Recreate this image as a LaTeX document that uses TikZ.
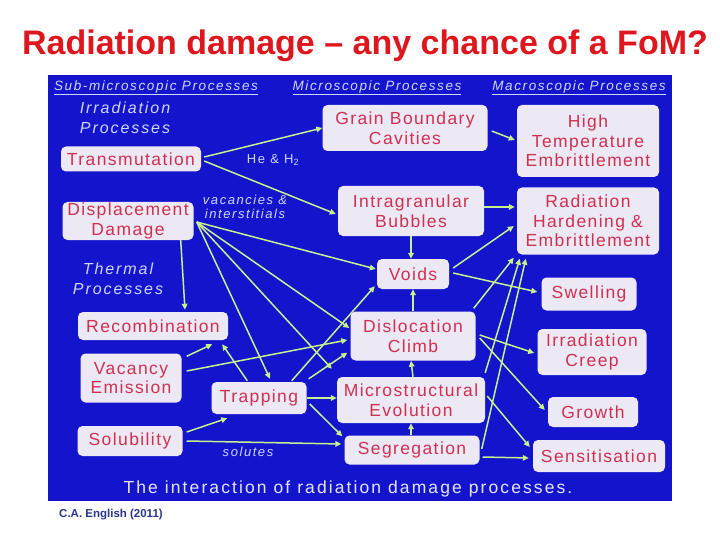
\documentclass[tikz,border=0pt]{standalone}
\usepackage{fontspec}
\setmainfont{Liberation Sans}
\newfontfamily\nodefont[LetterSpace=8]{Liberation Sans}
\newfontfamily\hdrfont[LetterSpace=12]{Liberation Sans}
\usetikzlibrary{arrows.meta,calc}
\definecolor{panelblue}{RGB}{20,20,205}
\definecolor{boxfill}{RGB}{236,232,244}
\definecolor{boxtext}{RGB}{208,48,80}
\definecolor{arrgreen}{RGB}{200,240,140}
\definecolor{labtext}{RGB}{205,215,255}
\definecolor{captext}{RGB}{228,230,255}
\definecolor{titlered}{RGB}{222,22,30}
\definecolor{footblue}{RGB}{40,55,140}
\tikzset{
  box/.style={fill=boxfill, rounded corners=5pt, text=boxtext, align=center, inner sep=0pt,
    font=\nodefont\fontsize{17.5}{19.5}\selectfont},
  hdr/.style={text=labtext, inner sep=0pt, font=\hdrfont\itshape\fontsize{13.5}{15}\selectfont},
  grp/.style={text=labtext, inner sep=0pt, align=center, font=\hdrfont\itshape\fontsize{16}{19.5}\selectfont},
  lab/.style={text=labtext, inner sep=0pt, align=center, font=\hdrfont\fontsize{13}{14}\selectfont},
  arr/.style={draw=arrgreen, line width=1.5pt, -{Triangle[length=6pt,width=5.5pt]}}
}
\begin{document}
\begin{tikzpicture}[x=1pt,y=-1pt]
\useasboundingbox (0,0) rectangle (720,540);
\fill[white] (0,0) rectangle (720,540);
\fill[panelblue] (48,75) rectangle (672,501);

% title and footer
\node[text=titlered, font=\bfseries\fontsize{34}{37}\selectfont] (title) at (365,46) {Radiation damage – any chance of a FoM?};
\node[text=footblue, anchor=west, inner sep=0pt, font=\bfseries\fontsize{11.5}{13}\selectfont] (foot) at (59,515) {C.A. English (2011)};

% headers
\node[hdr] (h1) at (156,88) {\underline{Sub-microscopic Processes}};
\node[hdr] (h2) at (377,88) {\underline{Microscopic Processes}};
\node[hdr] (h3) at (579,88) {\underline{Macroscopic Processes}};
\node[grp] (irr) at (125,118) {Irradiation\\Processes};
\node[grp] (therm) at (118,279) {Thermal\\Processes};
\node[text=captext, inner sep=0pt, font=\hdrfont\fontsize{17.5}{20}\selectfont] (cap) at (348,489) {The interaction of radiation damage processes.};

% boxes
\node[box, minimum width=140, minimum height=25] (trans) at (131,159) {Transmutation};
\node[box, minimum width=131, minimum height=38] (disp) at (128,221) {Displacement\\Damage};
\node[box, minimum width=165, minimum height=46] (gbc) at (405,128) {Grain Boundary\\Cavities};
\node[box, minimum width=146, minimum height=50] (ib) at (411,211) {Intragranular\\Bubbles};
\node[box, minimum width=142, minimum height=72] (hte) at (588,141) {High\\Temperature\\Embrittlement};
\node[box, minimum width=142, minimum height=67] (rhe) at (588,221) {Radiation\\Hardening \&\\Embrittlement};
\node[box, minimum width=72, minimum height=30] (voids) at (413,274) {Voids};
\node[box, minimum width=95, minimum height=33] (swell) at (589,294) {Swelling};
\node[box, minimum width=150, minimum height=28] (recomb) at (153,326) {Recombination};
\node[box, minimum width=125, minimum height=49] (dc) at (413,336) {Dislocation\\Climb};
\node[box, minimum width=109, minimum height=46] (creep) at (592,352) {Irradiation\\Creep};
\node[box, minimum width=101, minimum height=49] (vacem) at (131,378) {Vacancy\\Emission};
\node[box, minimum width=95, minimum height=32] (trap) at (259,398) {Trapping};
\node[box, minimum width=148, minimum height=46] (mse) at (411,400) {Microstructural\\Evolution};
\node[box, minimum width=90, minimum height=30] (growth) at (593,412) {Growth};
\node[box, minimum width=105, minimum height=30] (solub) at (130,441) {Solubility};
\node[box, minimum width=135, minimum height=29] (seg) at (412,450) {Segregation};
\node[box, minimum width=132, minimum height=32] (sens) at (599,456) {Sensitisation};

% labels
\node[lab] (he) at (273,160) {He \& H\textsubscript{2}};
\node[lab, font=\hdrfont\itshape\fontsize{13}{14}\selectfont] (vi) at (245,207) {vacancies \&\\interstitials};
\node[lab, font=\hdrfont\itshape\fontsize{13}{14}\selectfont] (sol) at (248,452) {solutes};

% arrows: irradiation
\draw[arr] ($(trans.east)+(3,-2)$) -- (gbc.west);
\draw[arr] ($(trans.east)+(3,2)$) -- ($(ib.west)+(-2,3)$);
\draw[arr] ($(gbc.east)+(4,3)$) -- ($(hte.west)+(-2,-1)$);
\draw[arr] ($(ib.east)+(0,-4)$) -- ($(ib.east -| rhe.west)+(-2,-4)$);
\draw[arr] (ib.south) -- (ib.south |- voids.north);
\draw[arr] (dc.north -| voids.south) -- (voids.south);
\draw[arr] (mse.north -| dc.south) -- (mse.north |- dc.south);
\draw[arr] (seg.north -| mse.south) -- (mse.south);

% displacement damage fan
\coordinate (ds) at ($(disp.east)+(3,1)$);
\draw[arr] (ds) -- ($(voids.west)+(-1,-5)$);
\draw[arr] (ds) -- ($(dc.west)+(-1,-8)$);
\draw[arr] (ds) -- ($(mse.north west)+(-5,-8)$);
\draw[arr] (ds) -- ($(trap.north)+(11,-3)$);
\draw[arr] ($(disp.south east)+(-13,0)$) -- ($(recomb.north)+(32,-2)$);

% trapping
\draw[arr] ($(trap.north west)+(36,-1)$) -- ($(recomb.south east)+(-6,4)$);
\draw[arr] ($(trap.north east)+(-15,-1)$) -- ($(voids.south west)+(-2,-3)$);
\draw[arr] ($(trap.north east)+(2,-3)$) -- ($(dc.south west)+(-3,-8)$);
\draw[arr] (trap.east) -- (trap.east -| mse.west);
\draw[arr] ($(trap.east)+(3,6)$) -- ($(seg.north west)+(-2,1)$);

% vacancy emission
\draw[arr] ($(vacem.north east)+(5,3)$) -- ($(recomb.south east)+(-16,4)$);
\draw[arr] ($(vacem.east)+(5,-7)$) -- ($(dc.west)+(-3,4)$);

% solubility
\draw[arr] ($(solub.east)+(4,-9)$) -- ($(trap.south west)+(16,4)$);
\draw[arr] ($(solub.east)+(4,0)$) -- ($(seg.west)+(-3,-6)$);

% macroscopic
\draw[arr] ($(voids.east)+(4,-6)$) -- ($(rhe.west)+(-3,5)$);
\draw[arr] ($(voids.east)+(4,-1)$) -- ($(swell.west)+(-4,-2)$);
\draw[arr] ($(dc.north east)+(-2,-3)$) -- ($(rhe.south west)+(-3,3)$);
\draw[arr] ($(mse.north east)+(0,-4)$) -- ($(rhe.south west)+(3,4)$);
\draw[arr] ($(seg.east)+(2,-1)$) -- ($(rhe.south west)+(9,4)$);
\draw[arr] ($(dc.east)+(4,-1)$) -- ($(creep.west)+(-3,1)$);
\draw[arr] ($(dc.east)+(4,2)$) -- ($(growth.west)+(-3,-2)$);
\draw[arr] ($(mse.east)+(2,-4)$) -- ($(sens.west)+(-3,-9)$);
\draw[arr] ($(seg.east)+(3,7)$) -- ($(sens.west)+(-4,2)$);
\end{tikzpicture}
\end{document}
